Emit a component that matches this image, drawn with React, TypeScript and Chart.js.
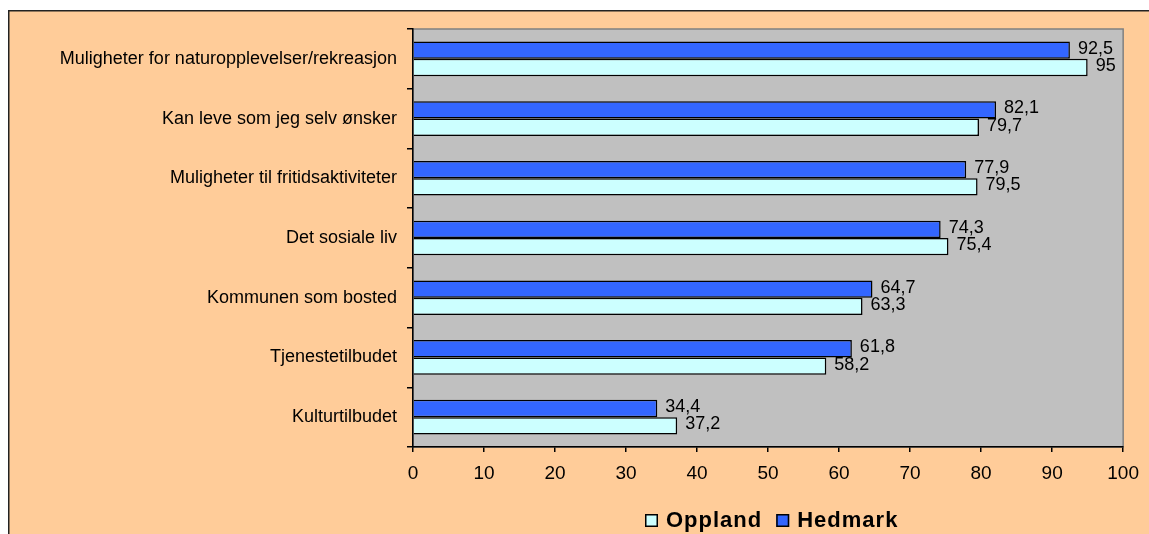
import React, { useEffect, useRef } from "react";
import { Chart, registerables } from "chart.js";

Chart.register(...registerables);

const categories = [
  "Muligheter for naturopplevelser/rekreasjon",
  "Kan leve som jeg selv ønsker",
  "Muligheter til fritidsaktiviteter",
  "Det sosiale liv",
  "Kommunen som bosted",
  "Tjenestetilbudet",
  "Kulturtilbudet",
];
const hedmark = [92.5, 82.1, 77.9, 74.3, 64.7, 61.8, 34.4];
const oppland = [95, 79.7, 79.5, 75.4, 63.3, 58.2, 37.2];
const seriesNames = ["Hedmark", "Oppland"];
const xMin = 0;
const xMax = 100;
const xStep = 10;

const BLUE = "#3366FF";
const CYAN = "#CCFFFF";
const PEACH = "#FFCC99";
const PLOT = "#C0C0C0";
const FONT = "'Liberation Sans', Arial, sans-serif";

const fmt = (v: number) => String(v).replace(".", ",");

const backgroundPlugin = {
  id: "bgPlugin",
  beforeDraw(chart: any) {
    const { ctx, width, height, chartArea } = chart;
    ctx.save();
    ctx.fillStyle = "#FFFFFF";
    ctx.fillRect(0, 0, width, height);
    ctx.fillStyle = PEACH;
    ctx.fillRect(8, 10, width, height);
    ctx.strokeStyle = "#222222";
    ctx.lineWidth = 1.5;
    ctx.beginPath();
    ctx.moveTo(8.75, height + 5);
    ctx.lineTo(8.75, 10.75);
    ctx.lineTo(width + 5, 10.75);
    ctx.stroke();
    ctx.fillStyle = PLOT;
    ctx.fillRect(chartArea.left, chartArea.top, chartArea.right - chartArea.left, chartArea.bottom - chartArea.top);
    ctx.strokeStyle = "#808080";
    ctx.lineWidth = 1.5;
    ctx.strokeRect(chartArea.left, chartArea.top, chartArea.right - chartArea.left, chartArea.bottom - chartArea.top);
    ctx.restore();
  },
};

const labelPlugin = {
  id: "valueLabels",
  afterDatasetsDraw(chart: any) {
    const { ctx } = chart;
    ctx.save();
    ctx.font = `18px ${FONT}`;
    ctx.fillStyle = "#000000";
    ctx.textAlign = "left";
    ctx.textBaseline = "middle";
    chart.data.datasets.forEach((ds: any, di: number) => {
      const meta = chart.getDatasetMeta(di);
      meta.data.forEach((bar: any, i: number) => {
        ctx.fillText(fmt(ds.data[i]), bar.x + 8, bar.y - 1.5);
      });
    });
    ctx.restore();
  },
};

const legendPlugin = {
  id: "customLegend",
  afterDraw(chart: any) {
    const { ctx } = chart;
    ctx.save();
    ctx.font = `bold 22px ${FONT}`;
    (ctx as any).letterSpacing = "1px";
    ctx.textBaseline = "alphabetic";
    ctx.textAlign = "left";
    const items = [
      { label: chart.data.datasets[1].label, color: chart.data.datasets[1].backgroundColor },
      { label: chart.data.datasets[0].label, color: chart.data.datasets[0].backgroundColor },
    ];
    let x = 645;
    const boxTop = 514;
    const baseline = 527;
    items.forEach((it) => {
      ctx.fillStyle = it.color;
      ctx.fillRect(x, boxTop, 13, 13);
      ctx.strokeStyle = "#000000";
      ctx.lineWidth = 1.5;
      ctx.strokeRect(x + 0.75, boxTop + 0.75, 11.5, 11.5);
      ctx.fillStyle = "#000000";
      ctx.fillText(it.label, x + 21, baseline);
      const w = ctx.measureText(it.label).width;
      x = x + 21 + w + 14;
    });
    ctx.restore();
  },
};

export default function App() {
  const ref = useRef<HTMLCanvasElement | null>(null);
  useEffect(() => {
    if (!ref.current) return;
    const chart = new Chart(ref.current, {
      type: "bar",
      data: {
        labels: categories,
        datasets: [
          {
            label: seriesNames[0],
            data: hedmark,
            backgroundColor: BLUE,
            borderColor: "#000000",
            borderWidth: 1.5,
            categoryPercentage: 0.58,
            barPercentage: 1,
          },
          {
            label: seriesNames[1],
            data: oppland,
            backgroundColor: CYAN,
            borderColor: "#000000",
            borderWidth: 1.5,
            categoryPercentage: 0.58,
            barPercentage: 1,
          },
        ],
      },
      options: {
        indexAxis: "y",
        responsive: false,
        animation: false,
        devicePixelRatio: 1,
        layout: { padding: { left: 0, top: 29, right: 22, bottom: 0 } },
        plugins: {
          legend: { display: false },
          tooltip: { enabled: false },
        },
        scales: {
          x: {
            type: "linear",
            min: xMin,
            max: xMax,
            ticks: {
              stepSize: xStep,
              color: "#000000",
              font: { family: FONT, size: 19 },
              padding: 10,
            },
            grid: {
              drawOnChartArea: false,
              drawTicks: true,
              tickLength: 5,
              color: "#000000",
              lineWidth: 1.5,
            },
            border: { display: true, color: "#000000", width: 1.5 },
            afterFit: (scale: any) => {
              scale.height = 87;
            },
          },
          y: {
            type: "category",
            ticks: {
              color: "#000000",
              font: { family: FONT, size: 18 },
              padding: 10,
            },
            grid: {
              offset: true,
              drawOnChartArea: false,
              drawTicks: true,
              tickLength: 6,
              color: "#000000",
              lineWidth: 1.5,
            },
            border: { display: true, color: "#000000", width: 1.5 },
            afterFit: (scale: any) => {
              scale.width = 413;
            },
          },
        },
      },
      plugins: [backgroundPlugin, labelPlugin, legendPlugin],
    } as any);
    return () => chart.destroy();
  }, []);
  return (
    <div style={{ position: "fixed", left: 0, top: 0, width: 1149, height: 534 }}>
      <canvas ref={ref} width={1149} height={534} style={{ display: "block" }} />
    </div>
  );
}
